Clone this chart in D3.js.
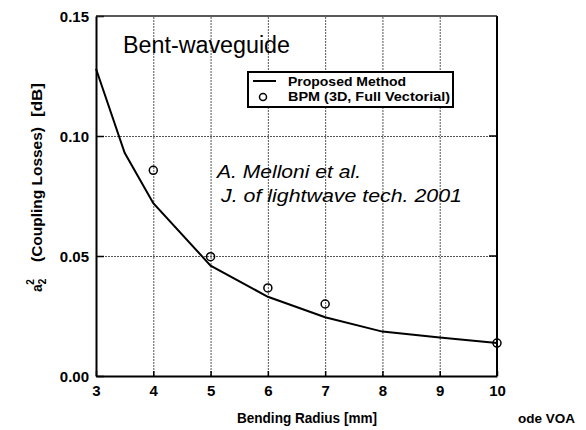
<!DOCTYPE html>
<html>
<head>
<meta charset="utf-8">
<script src="https://cdn.jsdelivr.net/npm/d3@7"></script>
<style>
  body { margin: 0; background: #fff; }
  svg { display: block; font-family: Arial, "Liberation Sans", Helvetica, sans-serif; }
</style>
</head>
<body>
<svg id="chart" width="586" height="430"></svg>
<script>
// values
const radius = [3, 3.5, 4, 5, 6, 7, 8, 9, 10];
const proposed = [0.128, 0.093, 0.072, 0.046, 0.033, 0.0245, 0.0185, 0.016, 0.0137];
const bpmRadius = [4, 5, 6, 7, 10];
const bpm = [0.0857, 0.0497, 0.0367, 0.030, 0.0137];
const xTicks = [3, 4, 5, 6, 7, 8, 9, 10];
const yTicks = [0, 0.05, 0.10, 0.15];

const svg = d3.select('#chart');
const margin = {left: 96, right: 89, top: 16, bottom: 54};
const W = 586, H = 430;

const x = d3.scaleLinear().domain([3, 10]).range([margin.left, W - margin.right]);
const y = d3.scaleLinear().domain([0, 0.15]).range([H - margin.bottom, margin.top]);

const g = svg.append('g');

// dotted grid
g.selectAll('.vgrid')
  .data(xTicks.slice(1, -1))
  .enter()
  .append('line')
    .attr('x1', d => x(d) + 0.5).attr('x2', d => x(d) + 0.5)
    .attr('y1', y(0)).attr('y2', y(0.15))
    .attr('stroke', '#555')
    .attr('stroke-width', 1)
    .attr('stroke-dasharray', '2,1');

g.selectAll('.hgrid')
  .data([0.05, 0.10])
  .enter()
  .append('line')
    .attr('x1', x(3)).attr('x2', x(10))
    .attr('y1', d => y(d) + 0.5).attr('y2', d => y(d) + 0.5)
    .attr('stroke', '#555')
    .attr('stroke-width', 1)
    .attr('stroke-dasharray', '2,1');

// axes with inward ticks
const xAxis = g.append('g')
  .attr('transform', `translate(0,${y(0)})`)
  .call(d3.axisBottom(x).tickValues(xTicks).tickFormat(d3.format('d')).tickSizeInner(-5).tickSizeOuter(0).tickPadding(6));
const yAxis = g.append('g')
  .attr('transform', `translate(${x(3)},0)`)
  .call(d3.axisLeft(y).tickValues(yTicks).tickFormat(d3.format('.2f')).tickSizeInner(-8).tickSizeOuter(0).tickPadding(7));

[xAxis, yAxis].forEach(a => {
  a.select('.domain').attr('stroke', '#000').attr('stroke-width', 2);
  a.selectAll('.tick line').attr('stroke', '#000').attr('stroke-width', 1.5);
  a.selectAll('.tick text')
    .attr('fill', '#000')
    .style('font-size', '15px')
    .style('font-weight', 'bold');
});
xAxis.selectAll('.tick text').attr('dy', '0.9em');
yAxis.selectAll('.tick text').attr('dy', '0.36em');

// right and top frame
g.append('line')
  .attr('x1', x(10)).attr('x2', x(10))
  .attr('y1', y(0)).attr('y2', y(0.15))
  .attr('stroke', '#000').attr('stroke-width', 2);
g.append('line')
  .attr('x1', x(3)).attr('x2', x(10))
  .attr('y1', y(0.15)).attr('y2', y(0.15))
  .attr('stroke', '#222').attr('stroke-width', 1.5);
g.selectAll('.rtick')
  .data([0.05, 0.10])
  .enter()
  .append('line')
    .attr('x1', x(10) - 8).attr('x2', x(10))
    .attr('y1', d => y(d)).attr('y2', d => y(d))
    .attr('stroke', '#000').attr('stroke-width', 1.5);

// proposed method curve
const line = d3.line().x((d, i) => x(radius[i])).y(d => y(d));
g.append('path')
  .datum(proposed)
  .attr('d', line)
  .attr('fill', 'none')
  .attr('stroke', '#000')
  .attr('stroke-width', 2);

// BPM points
g.selectAll('.bpm')
  .data(bpm)
  .enter()
  .append('circle')
    .attr('cx', (d, i) => x(bpmRadius[i]))
    .attr('cy', d => y(d))
    .attr('r', 4)
    .attr('fill', 'none')
    .attr('stroke', '#000')
    .attr('stroke-width', 1.5);

// legend
const legend = g.append('g');
legend.append('rect')
  .attr('x', 248).attr('y', 72)
  .attr('width', 205).attr('height', 35)
  .attr('fill', '#fff')
  .attr('stroke', '#000').attr('stroke-width', 2);
legend.append('line')
  .attr('x1', 253).attr('x2', 276)
  .attr('y1', 81).attr('y2', 81)
  .attr('stroke', '#000').attr('stroke-width', 2);
legend.append('circle')
  .attr('cx', 263).attr('cy', 97).attr('r', 3.5)
  .attr('fill', 'none').attr('stroke', '#000').attr('stroke-width', 1.5);
legend.append('text')
  .attr('x', 288).attr('y', 86)
  .attr('textLength', 118).attr('lengthAdjust', 'spacingAndGlyphs')
  .style('font-size', '13px').style('font-weight', 'bold')
  .text('Proposed Method');
legend.append('text')
  .attr('x', 288).attr('y', 101)
  .attr('textLength', 162).attr('lengthAdjust', 'spacingAndGlyphs')
  .style('font-size', '13px').style('font-weight', 'bold')
  .text('BPM (3D, Full Vectorial)');

// annotations
svg.append('text')
  .attr('x', 123).attr('y', 53)
  .attr('textLength', 167).attr('lengthAdjust', 'spacingAndGlyphs')
  .style('font-size', '23px')
  .text('Bent-waveguide');
svg.append('text')
  .attr('x', 217).attr('y', 178)
  .attr('textLength', 144).attr('lengthAdjust', 'spacingAndGlyphs')
  .style('font-size', '18px').style('font-style', 'italic')
  .text('A. Melloni et al.');
svg.append('text')
  .attr('x', 221).attr('y', 202)
  .attr('textLength', 241).attr('lengthAdjust', 'spacingAndGlyphs')
  .style('font-size', '18px').style('font-style', 'italic')
  .text('J. of lightwave tech. 2001');

// axis titles
svg.append('text')
  .attr('x', 237).attr('y', 423)
  .attr('textLength', 140).attr('lengthAdjust', 'spacingAndGlyphs')
  .style('font-size', '14px').style('font-weight', 'bold')
  .text('Bending Radius [mm]');

const yTitle = svg.append('g')
  .attr('transform', 'translate(42,0) rotate(-90)')
  .style('font-size', '14px').style('font-weight', 'bold');
const a2 = yTitle.append('text').attr('x', -292).attr('y', 0);
a2.append('tspan').text('a');
a2.append('tspan').attr('dy', 4).style('font-size', '10px').text('2');
a2.append('tspan').attr('dy', -12).attr('dx', -6).style('font-size', '10px').text('2');
yTitle.append('text')
  .attr('x', -262).attr('y', 0)
  .attr('textLength', 135).attr('lengthAdjust', 'spacingAndGlyphs')
  .text('(Coupling Losses)');
yTitle.append('text')
  .attr('x', -117).attr('y', 0)
  .attr('textLength', 34).attr('lengthAdjust', 'spacingAndGlyphs')
  .text('[dB]');

svg.append('text')
  .attr('x', 518).attr('y', 423)
  .attr('textLength', 57).attr('lengthAdjust', 'spacingAndGlyphs')
  .style('font-size', '12px').style('font-weight', 'bold')
  .text('ode VOA');
</script>
</body>
</html>
